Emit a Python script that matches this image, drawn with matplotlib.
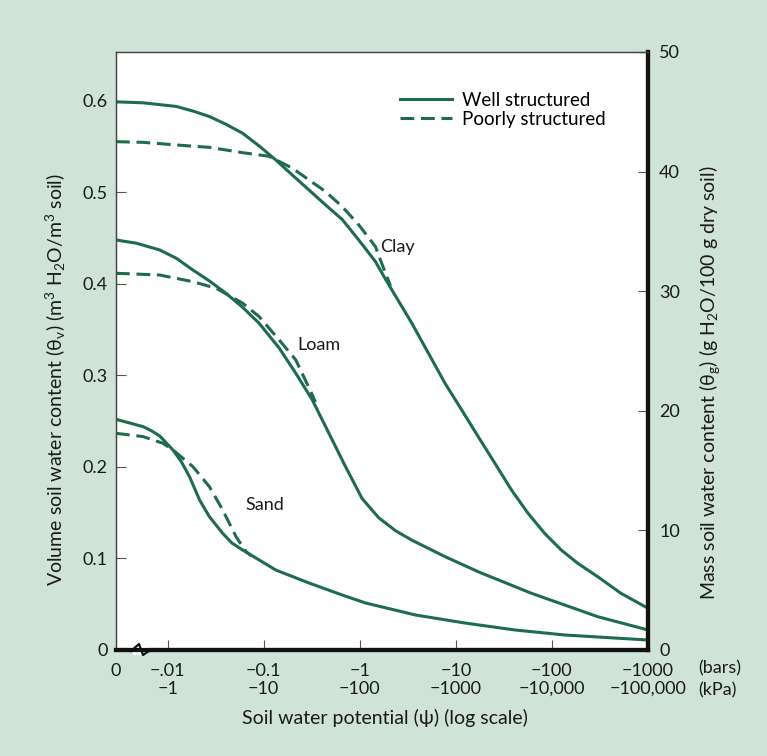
import matplotlib
matplotlib.use("Agg")
import matplotlib.pyplot as plt
from matplotlib.patches import Rectangle

plt.rcParams['font.family'] = ['Lato', 'DejaVu Sans']
plt.rcParams['mathtext.fontset'] = 'custom'
plt.rcParams['mathtext.rm'] = 'Lato'
plt.rcParams['mathtext.it'] = 'Lato'

# suction magnitude in bars (log scale), volumetric water content (m3/m3)
clay_well_x = [0.0029, 0.00555, 0.00826, 0.0123, 0.0183, 0.0272, 0.0405, 0.0603, 0.0897, 0.1336, 0.1987,
               0.296, 0.441, 0.656, 0.977, 1.455, 1.845, 3.486, 5.19, 7.72, 11.5, 17.1, 25.5, 37.9, 56.4,
               83.9, 124.8, 185.8, 300, 522, 1000]
clay_well_y = [0.599, 0.598, 0.596, 0.594, 0.589, 0.583, 0.5745, 0.5647, 0.5508, 0.5355, 0.519,
               0.5027, 0.4863, 0.4705, 0.448, 0.4245, 0.4055, 0.357, 0.3242, 0.2914, 0.2623, 0.2331, 0.204, 0.1749, 0.1494,
               0.1275, 0.1093, 0.0947, 0.0801, 0.062, 0.0456]
clay_poor_x = [0.0029, 0.00555, 0.0123, 0.0272, 0.0603, 0.114, 0.1987, 0.296, 0.441, 0.656, 0.977, 1.455, 1.85, 2.09]
clay_poor_y = [0.5555, 0.5548, 0.5519, 0.5493, 0.5435, 0.5395, 0.5265, 0.5137, 0.5009, 0.4845, 0.4645, 0.4408, 0.4117, 0.398]

loam_well_x = [0.0029, 0.00474, 0.00826, 0.0123, 0.0183, 0.0272, 0.0405, 0.0603, 0.0897, 0.1449, 0.2158,
               0.3207, 0.4775, 0.711, 1.057, 1.575, 2.344, 3.486, 7.72, 17.1, 61.1, 135.5, 300, 1000]
loam_well_y = [0.4481, 0.4445, 0.4372, 0.4281, 0.4153, 0.4033, 0.3898, 0.3745, 0.357, 0.330, 0.3024,
               0.2732, 0.2368, 0.2003, 0.1655, 0.1445, 0.1305, 0.1200, 0.102, 0.0855, 0.062, 0.0492, 0.0364, 0.0219]
loam_poor_x = [0.0029, 0.00826, 0.0183, 0.032, 0.0603, 0.0897, 0.1449, 0.2158, 0.3207, 0.345]
loam_poor_y = [0.4117, 0.4098, 0.4025, 0.3953, 0.379, 0.3643, 0.3388, 0.3169, 0.2787, 0.271]

sand_well_x = [0.0029, 0.00555, 0.0068, 0.00826, 0.01135, 0.01387, 0.0169, 0.0215, 0.0272, 0.0374, 0.0465,
               0.0603, 0.1336, 0.296, 0.656, 1.146, 3.78, 12.4, 41.1, 135.5, 1000]
sand_well_y = [0.2521, 0.2441, 0.2395, 0.2339, 0.2186, 0.2058, 0.1894, 0.1639, 0.1457, 0.1275, 0.117,
               0.1093, 0.0874, 0.0732, 0.0601, 0.0514, 0.0383, 0.0295, 0.0219, 0.0164, 0.0109]
sand_poor_x = [0.0029, 0.00555, 0.00895, 0.01135, 0.0183, 0.0272, 0.0374, 0.0515, 0.0655, 0.074]
sand_poor_y = [0.2368, 0.2332, 0.2259, 0.2186, 0.2004, 0.1785, 0.153, 0.1238, 0.1075, 0.103]

x_ticks = [0.01, 0.1, 1, 10, 100, 1000]
bars_labels = ["\u2212.01", "\u22120.1", "\u22121", "\u221210", "\u2212100", "\u22121000"]
kpa_labels = ["\u22121", "\u221210", "\u2212100", "\u22121000", "\u221210,000", "\u2212100,000"]
y_ticks = [0, 0.1, 0.2, 0.3, 0.4, 0.5, 0.6]
y_labels = ["0", "0.1", "0.2", "0.3", "0.4", "0.5", "0.6"]
y2_ticks = [0, 10, 20, 30, 40, 50]

GREEN = "#1f6b4e"
BG = "#cfe3d7"
TXT = "#1a1a1a"

fig = plt.figure(figsize=(7.67, 7.56), dpi=100, facecolor=BG)
ax = fig.add_axes([116/767, 1-650/756, (648-116)/767, (650-52)/756])
ax.set_facecolor("white")
ax.set_xscale("log")
ax.set_xlim(0.0029, 1000)
ax.set_ylim(0, 0.6535)

lw = 2.2
dash = (0, (4.5, 2.2))
for xs, ys, ls in [(clay_well_x, clay_well_y, '-'), (clay_poor_x, clay_poor_y, dash),
                   (loam_well_x, loam_well_y, '-'), (loam_poor_x, loam_poor_y, dash),
                   (sand_well_x, sand_well_y, '-'), (sand_poor_x, sand_poor_y, dash)]:
    ax.plot(xs, ys, color=GREEN, lw=lw, ls=ls, solid_joinstyle='round')

# ticks
ax.set_xticks([0.0029] + x_ticks)
ax.set_xticklabels(["0\n "] + [b + "\n" + k for b, k in zip(bars_labels, kpa_labels)])
ax.xaxis.set_minor_locator(plt.NullLocator())
ax.tick_params(axis='x', direction='in', length=7, width=0.8, color="#555555",
               labelsize=13, labelcolor=TXT, pad=9)
ax.xaxis.get_major_ticks()[0].tick1line.set_visible(False)
ax.set_yticks(y_ticks)
ax.set_yticklabels(y_labels)
ax.tick_params(axis='y', direction='in', length=7, width=0.8, color="#555555",
               labelsize=13, labelcolor=TXT, pad=6)
for lab in ax.get_xticklabels():
    lab.set_linespacing(1.2)

ax2 = ax.twinx()
ax2.set_ylim(0, 50)
ax2.set_yticks(y2_ticks)
ax2.set_yticklabels([str(t) for t in y2_ticks])
ax2.tick_params(axis='y', direction='in', length=7, width=0.8, color="#555555",
                labelsize=13, labelcolor=TXT, pad=8)

for a in (ax, ax2):
    a.spines['left'].set_linewidth(0.9)
    a.spines['left'].set_color("#444444")
    a.spines['top'].set_linewidth(0.9)
    a.spines['top'].set_color("#444444")
    a.spines['right'].set_linewidth(3.0)
    a.spines['right'].set_color("#111111")
    a.spines['bottom'].set_linewidth(3.0)
    a.spines['bottom'].set_color("#111111")

# axis break marker on bottom axis
def ax_frac(px, py):
    return ((px - 116) / (648 - 116), (650 - py) / (650 - 52))
x0, _ = ax_frac(133, 650)
x1, _ = ax_frac(147, 650)
ax.add_patch(Rectangle((x0, -0.008), x1 - x0, 0.016, transform=ax.transAxes,
                       facecolor="white", edgecolor="none", clip_on=False, zorder=5))
zz = [ax_frac(131, 651), ax_frac(139, 644), ax_frac(143, 655), ax_frac(149, 651)]
ax.plot([p[0] for p in zz], [p[1] for p in zz], transform=ax.transAxes, color="#111111",
        lw=1.6, clip_on=False, zorder=6)

# legend
ax.legend(handles=[plt.Line2D([], [], color=GREEN, lw=lw),
                   plt.Line2D([], [], color=GREEN, lw=lw, ls=dash)],
          labels=["Well structured", "Poorly structured"],
          loc='upper left', bbox_to_anchor=((400-116)/532, (650-92)/598),
          frameon=False, fontsize=13.5, handlelength=2.75, handletextpad=0.55,
          labelspacing=0.1, borderaxespad=0, borderpad=0)

# curve labels
ax.text(1.61, 0.4405, "Clay", fontsize=13, color=TXT, va='center')
ax.text(0.222, 0.333, "Loam", fontsize=13, color=TXT, va='center')
ax.text(0.0643, 0.158, "Sand", fontsize=13, color=TXT, va='center')

# axis labels
fig.text(56/767, 1-380/756,
         "Volume soil water content (\u03b8$_\\mathregular{v}$) (m$^\\mathregular{3}$ H$_\\mathregular{2}$O/m$^\\mathregular{3}$ soil)",
         rotation=90, ha='center', va='center', fontsize=14, color=TXT)
fig.text(710/767, 1-383/756,
         "Mass soil water content (\u03b8$_\\mathregular{g}$) (g H$_\\mathregular{2}$O/100 g dry soil)",
         rotation=90, ha='center', va='center', fontsize=14, color=TXT)
fig.text(385/767, 1-718/756, "Soil water potential (\u03c8) (log scale)",
         ha='center', va='center', fontsize=14, color=TXT)
fig.text(698/767, 1-668/756, "(bars)", ha='left', va='center', fontsize=13, color=TXT)
fig.text(698/767, 1-690/756, "(kPa)", ha='left', va='center', fontsize=13, color=TXT)

fig.savefig("out.png", dpi=100, facecolor=BG)
